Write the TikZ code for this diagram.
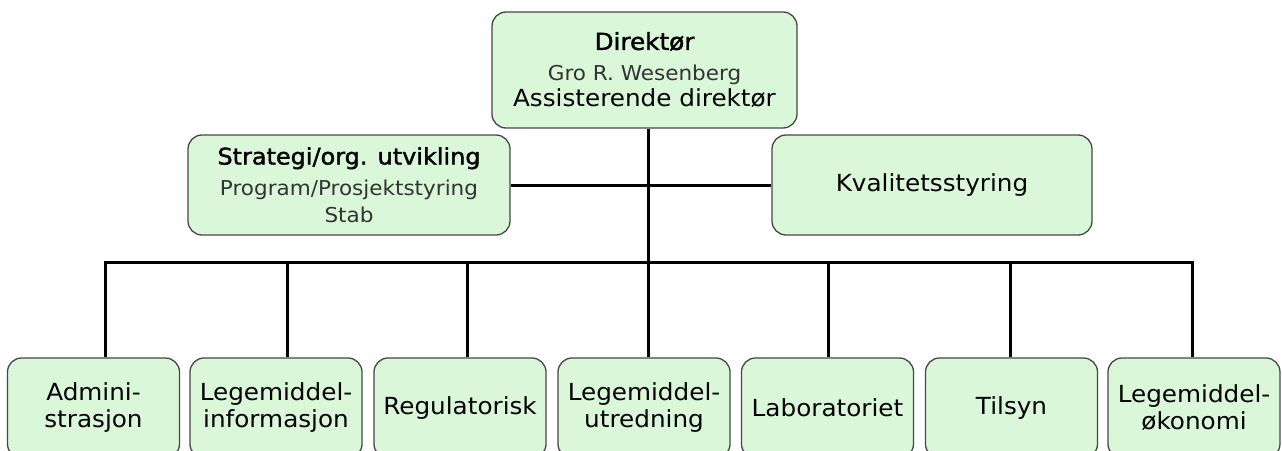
\documentclass[tikz,border=0pt]{standalone}
\usepackage{fontspec}
\setmainfont{DejaVu Sans}[FakeStretch=1.05]
\newfontfamily\headfont{DejaVu Sans}[FakeStretch=1.05, FakeBold=1.6]
\definecolor{boxgreen}{RGB}{218,248,217}
\definecolor{boxedge}{RGB}{70,70,70}
\begin{document}
\begin{tikzpicture}[x=1pt,y=-1pt,
  box/.style={draw=boxedge, line width=1.3pt, fill=boxgreen, rounded corners=14pt,
    inner sep=0pt, align=center, font=\fontsize{23.5}{27}\selectfont},
  conn/.style={line width=3pt, black, line join=miter}]
\useasboundingbox (0,0) rectangle (1282,450);
\clip (0,0) rectangle (1282,450);

% top level
\node[box, minimum width=305pt, minimum height=116pt] (dir) at (644.5,70)
  {{\headfont\fontsize{23.5}{23.5}\selectfont Direktør}\\[4pt]
   {\color{black!80}\fontsize{20.5}{25}\selectfont Gro R. Wesenberg}\\[-1pt]
   Assisterende direktør};

% staff level
\node[box, minimum width=322pt, minimum height=100pt] (strat) at (349,185)
  {{\headfont\fontsize{22.8}{22.8}\selectfont Strategi/org. utvikling}\\[4pt]
   {\color{black!80}\fontsize{20.5}{28}\selectfont Program/Prosjektstyring}\\
   {\color{black!80}\fontsize{20.5}{28}\selectfont Stab}};
\node[box, minimum width=320pt, minimum height=100pt] (kval) at (932,185)
  {Kvalitetsstyring};

% departments
\tikzset{dept/.style={box, minimum width=172pt, minimum height=100pt}}
\node[dept] (b1) at (93.5,408) {Admini-\\strasjon};
\node[dept] (b2) at (276,408) {Legemiddel-\\informasjon};
\node[dept] (b3) at (460,408) {Regulatorisk};
\node[dept] (b4) at (644,408) {Legemiddel-\\utredning};
\node[dept] (b5) at (827.5,408) {Laboratoriet};
\node[dept] (b6) at (1011.5,408) {Tilsyn};
\node[dept] (b7) at (1194,408) {Legemiddel-\\økonomi};

% bus coordinates
\coordinate (bus1) at (105,262);
\coordinate (bus2) at (287,262);
\coordinate (bus3) at (467,262);
\coordinate (bus4) at (648,262);
\coordinate (bus5) at (828,262);
\coordinate (bus6) at (1010,262);
\coordinate (bus7) at (1192,262);

% connectors
\draw[conn] (dir.south -| bus4) -- (bus4);
\draw[conn] (strat.east) -- (kval.west);
\draw[conn] (bus1 |- b1.north) -- (bus1) -- (bus7) -- (bus7 |- b7.north);
\draw[conn] (bus2) -- (bus2 |- b2.north);
\draw[conn] (bus3) -- (bus3 |- b3.north);
\draw[conn] (bus4) -- (bus4 |- b4.north);
\draw[conn] (bus5) -- (bus5 |- b5.north);
\draw[conn] (bus6) -- (bus6 |- b6.north);
\end{tikzpicture}
\end{document}
